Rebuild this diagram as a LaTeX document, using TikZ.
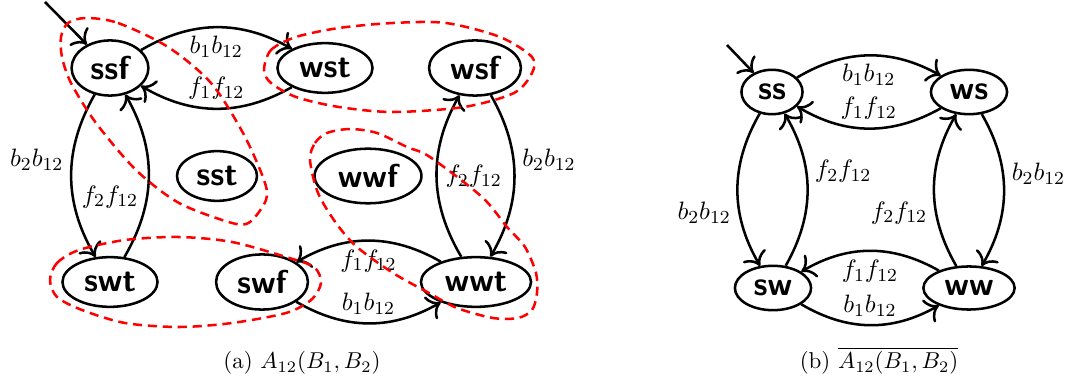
\documentclass[tikz,border=0pt]{standalone}
\usetikzlibrary{shapes.geometric,arrows.meta}
\tikzset{
  st/.style={draw,line width=1.1pt,ellipse,font=\Large\sffamily\bfseries},
  trans/.style={-{To[scale=1.35]},line width=1.1pt},
  lbl/.style={font=\fontsize{11}{13}\selectfont},
  region/.style={red,line width=1.1pt,dash pattern=on 4pt off 2.5pt}
}
\begin{document}
\begin{tikzpicture}[x=0.0153cm,y=-0.0153cm]
\useasboundingbox (0,0) rectangle (1068,377);
% (a) product automaton
\node[st] (ssf) at (110,68) {ssf};
\node[st] (wst) at (325,68) {wst};
\node[st] (wsf) at (475,68) {wsf};
\node[st] (sst) at (217,176) {sst};
\node[st] (wwf) at (368,176) {wwf};
\node[st] (swt) at (110,282) {swt};
\node[st] (swf) at (262,282) {swf};
\node[st] (wwt) at (476,282) {wwt};
\coordinate (initA) at (45,2);
\draw[trans] (initA) -- (ssf);
\draw[trans] (ssf) to[bend left] node[lbl,below] {$b_1b_{12}$} (wst);
\draw[trans] (wst) to[bend left] node[lbl,above] {$f_1f_{12}$} (ssf);
\draw[trans] (ssf) to[bend right] node[lbl,left,pos=0.4] {$b_2b_{12}$} (swt);
\draw[trans] (swt) to[bend right] node[lbl,left,pos=0.37] {$f_2f_{12}$} (ssf);
\draw[trans] (wsf) to[bend left] node[lbl,right,pos=0.4] {$b_2b_{12}$} (wwt);
\draw[trans] (wwt) to[bend left] node[lbl,right] {$f_2f_{12}$} (wsf);
\draw[trans] (wwt) to[bend right] node[lbl,below] {$f_1f_{12}$} (swf);
\draw[trans] (swf) to[bend right] node[lbl,above] {$b_1b_{12}$} (wwt);
% classes
\draw[region] plot[smooth cycle] coordinates {(86,18) (118,23) (168,47) (211,83) (243,133)
  (264,180) (266,200) (250,222) (232,223) (179,203) (136,170) (96,123) (71,83) (62,57)
  (61,37) (68,23)};
\draw[region] plot[smooth cycle] coordinates {(264,70) (271,50) (296,37) (339,28) (393,23)
  (446,23) (500,37) (532,57) (532,73) (514,93) (464,107) (393,112) (339,107) (296,97)
  (271,83)};
\draw[region] plot[smooth cycle] coordinates {(50,280) (57,263) (79,250) (125,240) (179,237)
  (232,242) (286,257) (314,267) (321,283) (311,300) (286,313) (232,323) (179,327)
  (125,323) (82,310) (57,297)};
\draw[region] plot[smooth cycle] coordinates {(310,160) (315,143) (327,133) (350,129)
  (377,133) (407,147) (430,157) (482,197) (507,227) (525,247) (536,273) (537,293)
  (532,310) (518,318) (493,318) (457,308) (429,293) (393,273) (357,247) (336,223)
  (318,193)};
\node[anchor=base] (capA) at (302,369) {(a) $A_{12}(B_1,B_2)$};
% (b) quotient automaton
\node[st] (ss) at (772,92) {ss};
\node[st] (ws) at (969,92) {ws};
\node[st] (sw) at (773,288) {sw};
\node[st] (ww) at (969,288) {ww};
\coordinate (initB) at (727,45);
\draw[trans] (initB) -- (ss);
\draw[trans] (ss) to[bend left] node[lbl,below] {$b_1b_{12}$} (ws);
\draw[trans] (ws) to[bend left] node[lbl,above] {$f_1f_{12}$} (ss);
\draw[trans] (ss) to[bend right] node[lbl,left,pos=0.65] {$b_2b_{12}$} (sw);
\draw[trans] (sw) to[bend right] node[lbl,right,pos=0.62] {$f_2f_{12}$} (ss);
\draw[trans] (ws) to[bend left] node[lbl,right,pos=0.39] {$b_2b_{12}$} (ww);
\draw[trans] (ww) to[bend left] node[lbl,left,pos=0.35] {$f_2f_{12}$} (ws);
\draw[trans] (ww) to[bend right] node[lbl,below] {$f_1f_{12}$} (sw);
\draw[trans] (sw) to[bend right] node[lbl,above] {$b_1b_{12}$} (ww);
\node[anchor=base] (capB) at (879,369) {(b) $\overline{A_{12}(B_1,B_2)}$};
\end{tikzpicture}
\end{document}
